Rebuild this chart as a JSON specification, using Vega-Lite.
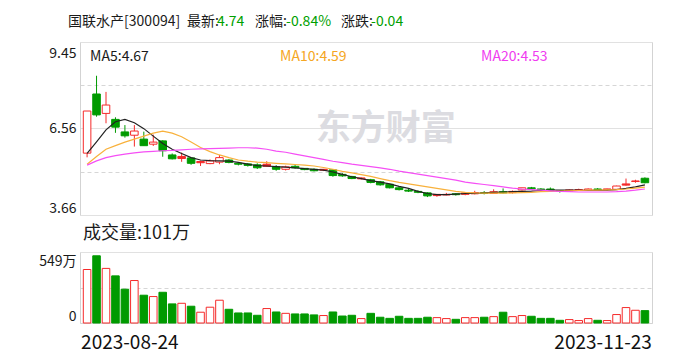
{
  "$schema": "https://vega.github.io/schema/vega-lite/v6.json",
  "width": 572,
  "height": 281,
  "autosize": {"type": "none"},
  "padding": {"left": 80, "top": 42, "right": 36, "bottom": 37},
  "background": "white",
  "config": {
    "view": {"stroke": null},
    "font": "Noto Sans CJK SC",
    "axis": {"labelFont": "Noto Sans CJK SC"},
    "text": {"font": "Noto Sans CJK SC"}
  },
  "data": {"values": [
    {"d":"2023-08-24","o":5.73,"h":7.14,"l":5.59,"c":7.14,"v":437,"t":"up","m5":5.72,"m10":5.36,"m20":5.33},
    {"d":"2023-08-25","o":7.71,"h":8.32,"l":6.95,"c":7.01,"v":549,"t":"down","m5":6.11,"m10":5.62,"m20":5.47},
    {"d":"2023-08-28","o":7.06,"h":7.78,"l":6.73,"c":7.34,"v":446,"t":"up","m5":6.51,"m10":5.86,"m20":5.58},
    {"d":"2023-08-29","o":6.86,"h":6.93,"l":6.41,"c":6.60,"v":385,"t":"down","m5":6.78,"m10":5.98,"m20":5.65},
    {"d":"2023-08-30","o":6.44,"h":6.67,"l":6.25,"c":6.31,"v":276,"t":"down","m5":6.86,"m10":6.10,"m20":5.70},
    {"d":"2023-08-31","o":6.33,"h":6.67,"l":5.95,"c":6.47,"v":347,"t":"up","m5":6.75,"m10":6.20,"m20":5.74},
    {"d":"2023-09-01","o":6.20,"h":6.45,"l":5.98,"c":5.98,"v":227,"t":"down","m5":6.55,"m10":6.30,"m20":5.77},
    {"d":"2023-09-04","o":6.03,"h":6.35,"l":5.97,"c":6.10,"v":216,"t":"up","m5":6.30,"m10":6.40,"m20":5.79},
    {"d":"2023-09-05","o":6.14,"h":6.16,"l":5.61,"c":5.81,"v":251,"t":"down","m5":6.05,"m10":6.47,"m20":5.81},
    {"d":"2023-09-06","o":5.67,"h":5.72,"l":5.52,"c":5.54,"v":156,"t":"down","m5":5.86,"m10":6.40,"m20":5.82},
    {"d":"2023-09-07","o":5.62,"h":5.75,"l":5.44,"c":5.55,"v":161,"t":"up","m5":5.72,"m10":6.28,"m20":5.84},
    {"d":"2023-09-08","o":5.57,"h":5.57,"l":5.34,"c":5.39,"v":137,"t":"down","m5":5.58,"m10":6.10,"m20":5.86},
    {"d":"2023-09-11","o":5.45,"h":5.48,"l":5.30,"c":5.41,"v":88,"t":"up","m5":5.50,"m10":5.92,"m20":5.87},
    {"d":"2023-09-12","o":5.38,"h":5.52,"l":5.36,"c":5.47,"v":129,"t":"up","m5":5.48,"m10":5.78,"m20":5.88},
    {"d":"2023-09-13","o":5.43,"h":5.67,"l":5.36,"c":5.58,"v":186,"t":"up","m5":5.47,"m10":5.67,"m20":5.89},
    {"d":"2023-09-14","o":5.50,"h":5.53,"l":5.39,"c":5.42,"v":112,"t":"down","m5":5.46,"m10":5.58,"m20":5.90},
    {"d":"2023-09-15","o":5.39,"h":5.42,"l":5.32,"c":5.36,"v":82,"t":"down","m5":5.42,"m10":5.50,"m20":5.91},
    {"d":"2023-09-18","o":5.37,"h":5.40,"l":5.28,"c":5.32,"v":82,"t":"down","m5":5.36,"m10":5.46,"m20":5.91},
    {"d":"2023-09-19","o":5.34,"h":5.39,"l":5.20,"c":5.24,"v":63,"t":"down","m5":5.31,"m10":5.43,"m20":5.90},
    {"d":"2023-09-20","o":5.36,"h":5.46,"l":5.28,"c":5.29,"v":118,"t":"up","m5":5.30,"m10":5.41,"m20":5.86},
    {"d":"2023-09-21","o":5.27,"h":5.33,"l":5.14,"c":5.19,"v":90,"t":"down","m5":5.28,"m10":5.39,"m20":5.80},
    {"d":"2023-09-22","o":5.19,"h":5.31,"l":5.15,"c":5.27,"v":79,"t":"up","m5":5.26,"m10":5.37,"m20":5.76},
    {"d":"2023-09-25","o":5.29,"h":5.33,"l":5.21,"c":5.24,"v":74,"t":"down","m5":5.24,"m10":5.35,"m20":5.70},
    {"d":"2023-09-26","o":5.22,"h":5.23,"l":5.16,"c":5.18,"v":74,"t":"down","m5":5.21,"m10":5.33,"m20":5.64},
    {"d":"2023-09-27","o":5.19,"h":5.22,"l":5.12,"c":5.14,"v":66,"t":"down","m5":5.19,"m10":5.30,"m20":5.58},
    {"d":"2023-09-28","o":5.19,"h":5.20,"l":5.13,"c":5.16,"v":61,"t":"up","m5":5.16,"m10":5.25,"m20":5.52},
    {"d":"2023-10-09","o":5.17,"h":5.18,"l":4.94,"c":4.98,"v":90,"t":"down","m5":5.10,"m10":5.19,"m20":5.46},
    {"d":"2023-10-10","o":5.02,"h":5.06,"l":4.94,"c":4.97,"v":57,"t":"down","m5":5.02,"m10":5.12,"m20":5.41},
    {"d":"2023-10-11","o":4.95,"h":4.97,"l":4.86,"c":4.88,"v":63,"t":"down","m5":4.94,"m10":5.07,"m20":5.36},
    {"d":"2023-10-12","o":4.87,"h":4.92,"l":4.85,"c":4.90,"v":36,"t":"up","m5":4.88,"m10":5.01,"m20":5.32},
    {"d":"2023-10-13","o":4.84,"h":4.87,"l":4.72,"c":4.75,"v":79,"t":"down","m5":4.81,"m10":4.95,"m20":5.28},
    {"d":"2023-10-16","o":4.77,"h":4.80,"l":4.64,"c":4.67,"v":47,"t":"down","m5":4.76,"m10":4.88,"m20":5.24},
    {"d":"2023-10-17","o":4.69,"h":4.70,"l":4.55,"c":4.57,"v":38,"t":"down","m5":4.70,"m10":4.81,"m20":5.19},
    {"d":"2023-10-18","o":4.57,"h":4.62,"l":4.48,"c":4.51,"v":55,"t":"down","m5":4.62,"m10":4.75,"m20":5.13},
    {"d":"2023-10-19","o":4.49,"h":4.54,"l":4.43,"c":4.46,"v":38,"t":"down","m5":4.55,"m10":4.70,"m20":5.08},
    {"d":"2023-10-20","o":4.45,"h":4.49,"l":4.39,"c":4.42,"v":38,"t":"down","m5":4.45,"m10":4.65,"m20":5.03},
    {"d":"2023-10-23","o":4.40,"h":4.42,"l":4.26,"c":4.30,"v":47,"t":"down","m5":4.38,"m10":4.60,"m20":4.98},
    {"d":"2023-10-24","o":4.35,"h":4.36,"l":4.27,"c":4.31,"v":44,"t":"up","m5":4.34,"m10":4.55,"m20":4.93},
    {"d":"2023-10-25","o":4.33,"h":4.40,"l":4.32,"c":4.35,"v":36,"t":"up","m5":4.34,"m10":4.50,"m20":4.88},
    {"d":"2023-10-26","o":4.37,"h":4.39,"l":4.31,"c":4.34,"v":30,"t":"down","m5":4.36,"m10":4.45,"m20":4.83},
    {"d":"2023-10-27","o":4.35,"h":4.43,"l":4.32,"c":4.40,"v":44,"t":"up","m5":4.38,"m10":4.42,"m20":4.76},
    {"d":"2023-10-30","o":4.37,"h":4.47,"l":4.35,"c":4.41,"v":44,"t":"up","m5":4.38,"m10":4.40,"m20":4.72},
    {"d":"2023-10-31","o":4.41,"h":4.46,"l":4.35,"c":4.38,"v":47,"t":"down","m5":4.40,"m10":4.39,"m20":4.68},
    {"d":"2023-11-01","o":4.38,"h":4.52,"l":4.37,"c":4.44,"v":52,"t":"up","m5":4.42,"m10":4.39,"m20":4.64},
    {"d":"2023-11-02","o":4.44,"h":4.55,"l":4.38,"c":4.40,"v":88,"t":"down","m5":4.43,"m10":4.39,"m20":4.60},
    {"d":"2023-11-03","o":4.41,"h":4.48,"l":4.38,"c":4.45,"v":52,"t":"up","m5":4.44,"m10":4.40,"m20":4.56},
    {"d":"2023-11-06","o":4.50,"h":4.57,"l":4.48,"c":4.57,"v":61,"t":"up","m5":4.45,"m10":4.41,"m20":4.53},
    {"d":"2023-11-07","o":4.57,"h":4.60,"l":4.51,"c":4.54,"v":55,"t":"down","m5":4.46,"m10":4.42,"m20":4.51},
    {"d":"2023-11-08","o":4.53,"h":4.56,"l":4.49,"c":4.51,"v":38,"t":"down","m5":4.48,"m10":4.44,"m20":4.49},
    {"d":"2023-11-09","o":4.53,"h":4.58,"l":4.47,"c":4.49,"v":38,"t":"down","m5":4.49,"m10":4.45,"m20":4.47},
    {"d":"2023-11-10","o":4.48,"h":4.49,"l":4.41,"c":4.46,"v":22,"t":"down","m5":4.49,"m10":4.46,"m20":4.45},
    {"d":"2023-11-13","o":4.47,"h":4.52,"l":4.45,"c":4.50,"v":28,"t":"up","m5":4.49,"m10":4.47,"m20":4.44},
    {"d":"2023-11-14","o":4.50,"h":4.54,"l":4.48,"c":4.51,"v":20,"t":"up","m5":4.49,"m10":4.48,"m20":4.43},
    {"d":"2023-11-15","o":4.49,"h":4.55,"l":4.48,"c":4.53,"v":36,"t":"up","m5":4.48,"m10":4.49,"m20":4.43},
    {"d":"2023-11-16","o":4.53,"h":4.56,"l":4.48,"c":4.51,"v":22,"t":"down","m5":4.48,"m10":4.49,"m20":4.43},
    {"d":"2023-11-17","o":4.53,"h":4.54,"l":4.48,"c":4.52,"v":20,"t":"up","m5":4.49,"m10":4.50,"m20":4.43},
    {"d":"2023-11-20","o":4.52,"h":4.64,"l":4.50,"c":4.63,"v":69,"t":"up","m5":4.51,"m10":4.51,"m20":4.44},
    {"d":"2023-11-21","o":4.70,"h":4.88,"l":4.64,"c":4.66,"v":126,"t":"up","m5":4.55,"m10":4.53,"m20":4.46},
    {"d":"2023-11-22","o":4.80,"h":4.84,"l":4.74,"c":4.78,"v":104,"t":"up","m5":4.60,"m10":4.56,"m20":4.49},
    {"d":"2023-11-23","o":4.89,"h":4.92,"l":4.72,"c":4.74,"v":101,"t":"down","m5":4.67,"m10":4.59,"m20":4.53}
  ]},
  "encoding": {
    "x": {
      "field": "d", "type": "ordinal",
      "scale": {"type": "band", "paddingInner": 0.2, "paddingOuter": 0.35},
      "axis": {
        "values": ["2023-08-24", "2023-11-23"],
        "title": null, "ticks": false, "grid": false,
        "domain": true, "domainColor": "#d3d3d3",
        "labelAngle": 0, "labelFontSize": 19, "labelColor": "#111111",
        "labelPadding": 10, "labelBaseline": "top",
        "labelAlign": {"condition": {"test": "datum.value == '2023-08-24'", "value": "left"}, "value": "right"},
        "labelOffset": {"condition": {"test": "datum.value == '2023-08-24'", "value": -6}, "value": 7}
      }
    }
  },
  "layer": [
    {
      "layer": [
        {
          "data": {"values": [{}]},
          "mark": {"type": "text", "fontSize": 35, "fontWeight": "bold", "color": "#dcdce1", "align": "center", "baseline": "middle", "dx": -4, "dy": 1},
          "encoding": {
            "x": {"datum": "2023-10-17", "type": "ordinal"},
            "y": {"datum": 6.556, "type": "quantitative", "axis": null},
            "text": {"value": "东方财富"}
          }
        },
        {
          "mark": {"type": "rule", "strokeWidth": 1},
          "encoding": {
            "y": {
              "field": "l", "type": "quantitative",
              "scale": {"domain": [3.66, 9.45], "range": [173, 0], "nice": false, "zero": false},
              "axis": {
                "orient": "left",
                "values": [3.66, 5.1075, 6.556, 8.0025, 9.45],
                "title": null, "ticks": false,
                "domain": true, "domainColor": "#d3d3d3",
                "grid": true, "gridColor": "#d6d6d6",
                "gridDash": {"condition": {"test": "datum.value == 5.1075 || datum.value == 8.0025", "value": [4, 3]}, "value": [1, 0]},
                "labelExpr": "datum.value == 5.1075 || datum.value == 8.0025 ? '' : format(datum.value, '.2f')",
                "labelFontSize": 14, "labelColor": "#1a1a1a", "labelPadding": 4,
                "labelFlush": true,
                "labelOffset": {"condition": {"test": "datum.value > 9", "value": 4}, "value": 0}
              }
            },
            "y2": {"field": "h"},
            "color": {"field": "t", "type": "nominal", "scale": {"domain": ["up", "down"], "range": ["#f52a2a", "#009a00"]}, "legend": null}
          }
        },
        {
          "mark": {"type": "bar", "strokeWidth": 1},
          "encoding": {
            "y": {"field": "o", "type": "quantitative", "axis": null},
            "y2": {"field": "c"},
            "stroke": {"field": "t", "type": "nominal", "scale": {"domain": ["up", "down"], "range": ["#f52a2a", "#009a00"]}, "legend": null},
            "fill": {
              "condition": {"test": "datum.c >= datum.o", "value": "#ffffff"},
              "field": "t", "type": "nominal",
              "scale": {"domain": ["up", "down"], "range": ["#f52a2a", "#009a00"]}, "legend": null
            }
          }
        },
        {
          "mark": {"type": "line", "strokeWidth": 1.2, "color": "#222222"},
          "encoding": {
            "y": {"field": "m5", "type": "quantitative",
              "axis": {"orient": "right", "title": null, "labels": false, "ticks": false, "grid": false, "domain": true, "domainColor": "#d3d3d3"}}
          }
        },
        {
          "mark": {"type": "line", "strokeWidth": 1.2, "color": "#f8b13c"},
          "encoding": {"y": {"field": "m10", "type": "quantitative", "axis": null}}
        },
        {
          "mark": {"type": "line", "strokeWidth": 1.2, "color": "#f54ff5"},
          "encoding": {"y": {"field": "m20", "type": "quantitative", "axis": null}}
        },
        {
          "data": {"values": [{}]},
          "mark": {"type": "text", "fontSize": 14, "color": "#1a1a1a", "align": "left", "baseline": "middle", "dx": 3, "dy": 15},
          "encoding": {"x": {"datum": "2023-08-24", "type": "ordinal"}, "y": {"datum": 9.45, "type": "quantitative", "axis": null}, "text": {"value": "MA5:4.67"}}
        },
        {
          "data": {"values": [{}]},
          "mark": {"type": "text", "fontSize": 14, "color": "#f5a623", "align": "left", "baseline": "middle", "dx": 193, "dy": 15},
          "encoding": {"x": {"datum": "2023-08-24", "type": "ordinal"}, "y": {"datum": 9.45, "type": "quantitative", "axis": null}, "text": {"value": "MA10:4.59"}}
        },
        {
          "data": {"values": [{}]},
          "mark": {"type": "text", "fontSize": 14, "color": "#f03cf0", "align": "left", "baseline": "middle", "dx": 394, "dy": 15},
          "encoding": {"x": {"datum": "2023-08-24", "type": "ordinal"}, "y": {"datum": 9.45, "type": "quantitative", "axis": null}, "text": {"value": "MA20:4.53"}}
        },
        {
          "data": {"values": [{}]},
          "mark": {"type": "text", "fontSize": 14, "color": "#1a1a1a", "align": "left", "baseline": "middle", "dx": -19, "dy": -20},
          "encoding": {"x": {"datum": "2023-08-24", "type": "ordinal"}, "y": {"datum": 9.45, "type": "quantitative", "axis": null}, "text": {"value": "国联水产[300094]"}}
        },
        {
          "data": {"values": [{}]},
          "mark": {"type": "text", "fontSize": 14, "color": "#1a1a1a", "align": "left", "baseline": "middle", "dx": 100, "dy": -20},
          "encoding": {"x": {"datum": "2023-08-24", "type": "ordinal"}, "y": {"datum": 9.45, "type": "quantitative", "axis": null}, "text": {"value": "最新:"}}
        },
        {
          "data": {"values": [{}]},
          "mark": {"type": "text", "fontSize": 14, "color": "#00a000", "align": "left", "baseline": "middle", "dx": 130, "dy": -20},
          "encoding": {"x": {"datum": "2023-08-24", "type": "ordinal"}, "y": {"datum": 9.45, "type": "quantitative", "axis": null}, "text": {"value": "4.74"}}
        },
        {
          "data": {"values": [{}]},
          "mark": {"type": "text", "fontSize": 14, "color": "#1a1a1a", "align": "left", "baseline": "middle", "dx": 168, "dy": -20},
          "encoding": {"x": {"datum": "2023-08-24", "type": "ordinal"}, "y": {"datum": 9.45, "type": "quantitative", "axis": null}, "text": {"value": "涨幅:"}}
        },
        {
          "data": {"values": [{}]},
          "mark": {"type": "text", "fontSize": 14, "color": "#00a000", "align": "left", "baseline": "middle", "dx": 199, "dy": -20},
          "encoding": {"x": {"datum": "2023-08-24", "type": "ordinal"}, "y": {"datum": 9.45, "type": "quantitative", "axis": null}, "text": {"value": "-0.84%"}}
        },
        {
          "data": {"values": [{}]},
          "mark": {"type": "text", "fontSize": 14, "color": "#1a1a1a", "align": "left", "baseline": "middle", "dx": 254, "dy": -20},
          "encoding": {"x": {"datum": "2023-08-24", "type": "ordinal"}, "y": {"datum": 9.45, "type": "quantitative", "axis": null}, "text": {"value": "涨跌:"}}
        },
        {
          "data": {"values": [{}]},
          "mark": {"type": "text", "fontSize": 14, "color": "#00a000", "align": "left", "baseline": "middle", "dx": 284, "dy": -20},
          "encoding": {"x": {"datum": "2023-08-24", "type": "ordinal"}, "y": {"datum": 9.45, "type": "quantitative", "axis": null}, "text": {"value": "-0.04"}}
        }
      ],
      "resolve": {"axis": {"y": "independent"}}
    },
    {
      "layer": [
        {
          "mark": {"type": "bar", "strokeWidth": 1},
          "encoding": {
            "y": {
              "field": "v", "type": "quantitative",
              "scale": {"domain": [0, 580], "range": [281, 210], "nice": false},
              "axis": {
                "orient": "left",
                "values": [0, 290, 549, 580],
                "title": null, "ticks": false,
                "domain": true, "domainColor": "#d3d3d3",
                "grid": true, "gridColor": "#d6d6d6",
                "gridDash": {"condition": {"test": "datum.value == 290", "value": [4, 3]}, "value": [1, 0]},
                "gridOpacity": {"condition": {"test": "datum.value == 549", "value": 0}, "value": 1},
                "labelExpr": "datum.value == 0 ? '0' : datum.value == 549 ? datum.value + '万' : ''",
                "labelFontSize": 14, "labelColor": "#1a1a1a", "labelPadding": 4,
                "labelBaseline": {"condition": {"test": "datum.value == 0", "value": "bottom"}, "value": "middle"},
                "labelOffset": {"condition": {"test": "datum.value == 549", "value": 6}, "value": 0}
              }
            },
            "stroke": {"field": "t", "type": "nominal", "scale": {"domain": ["up", "down"], "range": ["#f52a2a", "#009a00"]}, "legend": null},
            "fill": {"condition": {"test": "datum.t == 'up'", "value": "#ffffff"}, "value": "#009a00"}
          }
        },
        {
          "data": {"values": [{}]},
          "mark": {"type": "text", "fontSize": 18, "color": "#1a1a1a", "align": "left", "baseline": "middle", "dx": -4, "dy": -18},
          "encoding": {
            "x": {"datum": "2023-08-24", "type": "ordinal"},
            "y": {"datum": 580, "type": "quantitative",
              "axis": {"orient": "right", "title": null, "labels": false, "ticks": false, "grid": false, "domain": true, "domainColor": "#d3d3d3"}},
            "text": {"value": "成交量:101万"}
          }
        }
      ],
      "resolve": {"axis": {"y": "independent"}}
    }
  ],
  "resolve": {"scale": {"y": "independent"}}
}
